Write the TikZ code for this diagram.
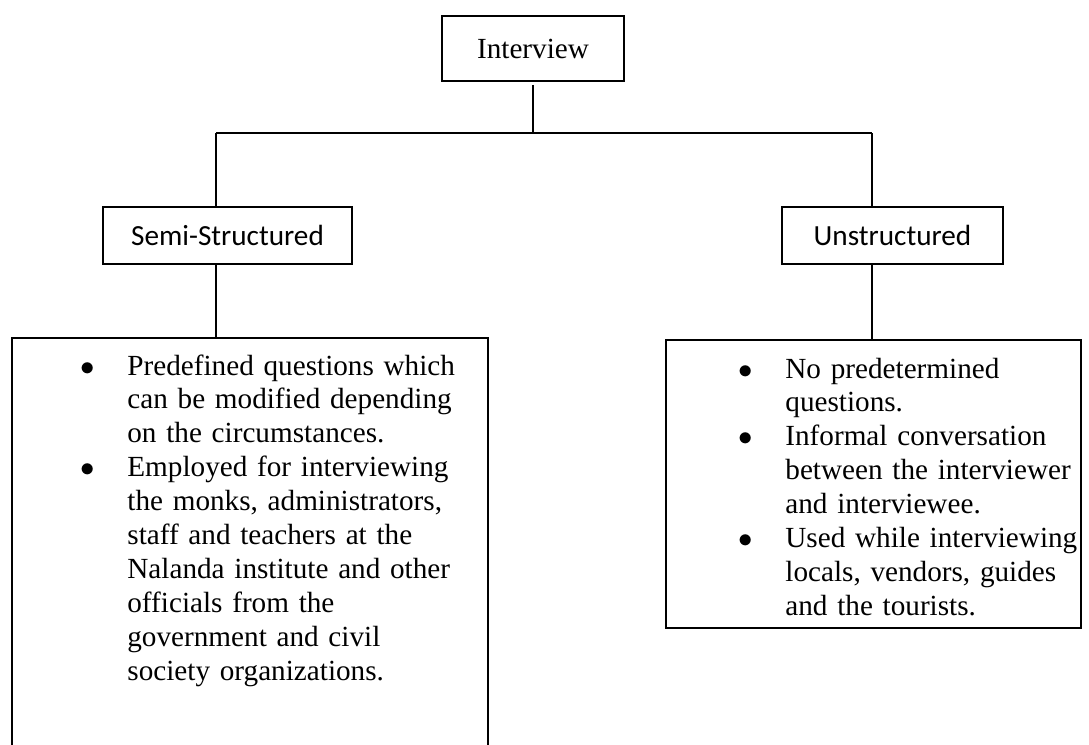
\documentclass[tikz,border=0pt]{standalone}
\usepackage{fontspec}
\setmainfont{Liberation Serif}
\newfontfamily\labelfont{Carlito}
\usetikzlibrary{positioning}

\begin{document}
\begin{tikzpicture}[x=0.5pt, y=-0.5pt,font=\fontsize{14.6}{16.95}\selectfont,
  topbox/.style={draw, line width=0.75pt, minimum width=91pt, minimum height=32.5pt, inner sep=0pt},
  typebox/.style={draw, line width=0.75pt, minimum height=28.5pt, inner sep=0pt, font=\labelfont\fontsize{14.6}{16.95}\selectfont},
  listbox/.style={draw, line width=0.75pt, anchor=north west, inner sep=0pt},
  listtext/.style={anchor=base west, inner sep=0pt, text width=200pt},
  branch/.style={line width=1pt}]
\def\bitem#1{\noindent\hangindent=23.5pt\hangafter=1\makebox[23.5pt][l]{$\bullet$}#1\par}
\def\nl{\hfil\break}

\useasboundingbox (0,0) rectangle (1089,745);
\clip (0,0) rectangle (1089,745);

\node[topbox] (iv) at (533,48.5) {Interview};
\node[typebox, minimum width=124.5pt] (semi) at (227.5,235.5) {Semi-Structured};
\node[typebox, minimum width=110.5pt] (unst) at (892.5,235.5) {Unstructured};

\node[listbox, minimum width=238pt, minimum height=215pt] (semilist) at (11,337) {};
\node[listbox, minimum width=207.5pt, minimum height=144pt] (unstlist) at (665,339) {};

\coordinate (hub) at (533,133);
\coordinate (lcorner) at (216,133);
\coordinate (rcorner) at (872,133);

\draw[branch] ([yshift=-1.5pt]iv.south) -- (hub);
\draw[branch] (lcorner) -- (rcorner);
\draw[branch] (lcorner) -- (lcorner |- semi.north);
\draw[branch] (rcorner) -- (rcorner |- unst.north);
\draw[branch] (semi.south -| lcorner) -- (lcorner |- semilist.north);
\draw[branch] (unst.south -| rcorner) -- (rcorner |- unstlist.north);

\node[listtext] (semitext) at (80,375) {%
\bitem{Predefined questions which\nl can be modified depending\nl on the circumstances.}%
\bitem{Employed for interviewing\nl the monks, administrators,\nl staff and teachers at the\nl Nalanda institute and other\nl officials from the\nl government and civil\nl society organizations.}};

\node[listtext] (unsttext) at (738,378) {%
\bitem{No predetermined\nl questions.}%
\bitem{Informal conversation\nl between the interviewer\nl and interviewee.}%
\bitem{Used while interviewing\nl locals, vendors, guides\nl and the tourists.}};
\end{tikzpicture}
\end{document}
